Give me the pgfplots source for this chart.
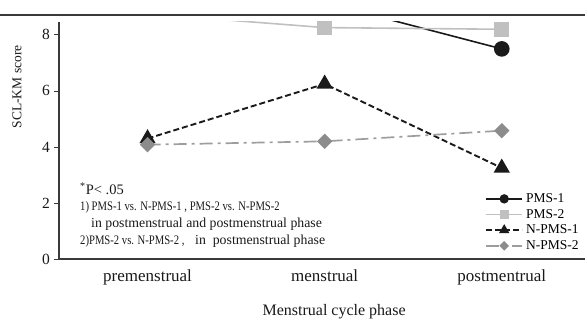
\documentclass[border=0pt]{standalone}
\usepackage{pgfplots}
\pgfplotsset{compat=1.18}
\usepackage{fontspec}
\setmainfont{Liberation Serif}
\definecolor{dk}{HTML}{1A1A1A}
\definecolor{lg}{HTML}{C0C0C0}
\definecolor{mg}{HTML}{8C8C8C}
\definecolor{axc}{HTML}{3A3A3A}
\begin{document}
\begin{tikzpicture}[x=1pt,y=1pt]
\begin{axis}[
  at={(59pt,61pt)}, anchor=south west,
  scale only axis, width=526pt, height=237pt,
  xmin=-0.5, xmax=2.47, ymin=0, ymax=8.46,
  axis lines*=left,
  axis line style={axc, line width=1.1pt},
  clip marker paths=true,
  major tick length=4.5pt,
  xtick={0,1,2},
  xticklabels={premenstrual, menstrual, postmentrual},
  x tick style={draw=none},
  extra x ticks={0.5,1.5}, extra x tick labels={},
  extra x tick style={tick style={draw=axc, line width=0.8pt}},
  ytick={0,2,4,6,8},
  y tick style={draw=axc, line width=0.8pt},
  tick align=outside,
  /pgf/number format/assume math mode=true,
  xticklabel style={font=\fontsize{17}{20}\selectfont, text=black!90, yshift=-3pt},
  yticklabel style={font=\fontsize{15.5}{18}\selectfont, text=black!90, xshift=-1pt},
  xlabel={Menstrual cycle phase},
  xlabel style={font=\fontsize{16}{19}\selectfont, text=black!90, at={(axis description cs:0.523,-0.222)}, anchor=center},
  ylabel={SCL-KM score},
  ylabel style={font=\fontsize{13.5}{16}\selectfont, text=black!90, at={(axis description cs:-0.08,0.726)}, anchor=center, rotate=0},
  legend style={at={(axis description cs:0.81,0.285)}, anchor=north west, draw=none, fill=none,
    font=\fontsize{13.5}{15}\selectfont, row sep=1.2pt, inner sep=0pt,
    /tikz/every odd column/.append style={column sep=1pt}},
  legend cell align=left,
  legend image code/.code={\draw[mark repeat=2,mark phase=2,#1, every mark/.append style={scale=0.55}] plot coordinates {(0pt,0pt) (18pt,0pt) (36pt,0pt)};},
]
\addplot[dk, line width=1.6pt, mark=*, mark size=7pt] coordinates {(0,9.6) (1,9.15) (2,7.5)};
\addlegendentry{PMS-1}
\addplot[lg, line width=1.6pt, mark=square*, mark size=6.5pt] coordinates {(0,8.75) (1,8.26) (2,8.2)};
\addlegendentry{PMS-2}
\addplot[dk, line width=1.9pt, dash pattern=on 6pt off 3pt, mark=triangle*, mark size=7.5pt, mark options={solid}] coordinates {(0,4.3) (1,6.25) (2,3.25)};
\addlegendentry{N-PMS-1}
\addplot[mg!85, line width=1.7pt, dash pattern=on 13pt off 5pt on 3pt off 5pt, mark=square*, mark size=4.6pt, mark options={solid, rotate=45, fill=mg, draw=mg}] coordinates {(0,4.08) (1,4.2) (2,4.58)};
\addlegendentry{N-PMS-2}
\end{axis}
\draw[axc, line width=1.6pt] (0,305) -- (585,305);
\node[anchor=base west, inner sep=0pt, font=\fontsize{14.5}{16}\selectfont, text=black!90] at (80,125) {\textsuperscript{*}P< .05};
\node[anchor=base west, inner sep=0pt, font=\fontsize{13}{15}\selectfont, text=black!90] at (80,109) {\scalebox{0.82}[1]{1) PMS-1 vs. N-PMS-1 , PMS-2 vs. N-PMS-2}};
\node[anchor=base west, inner sep=0pt, font=\fontsize{13.8}{16}\selectfont, text=black!90] at (91,92) {in postmenstrual and postmenstrual phase};
\node[anchor=base west, inner sep=0pt, font=\fontsize{13}{15}\selectfont, text=black!90] at (80,75) {\scalebox{0.82}[1]{2)PMS-2 vs. N-PMS-2 ,}};
\node[anchor=base west, inner sep=0pt, font=\fontsize{13.8}{16}\selectfont, text=black!90] at (195,75) {in\ \ postmenstrual phase};
\pgfresetboundingbox
\path (0,0) rectangle (585,320);
\end{tikzpicture}
\end{document}
